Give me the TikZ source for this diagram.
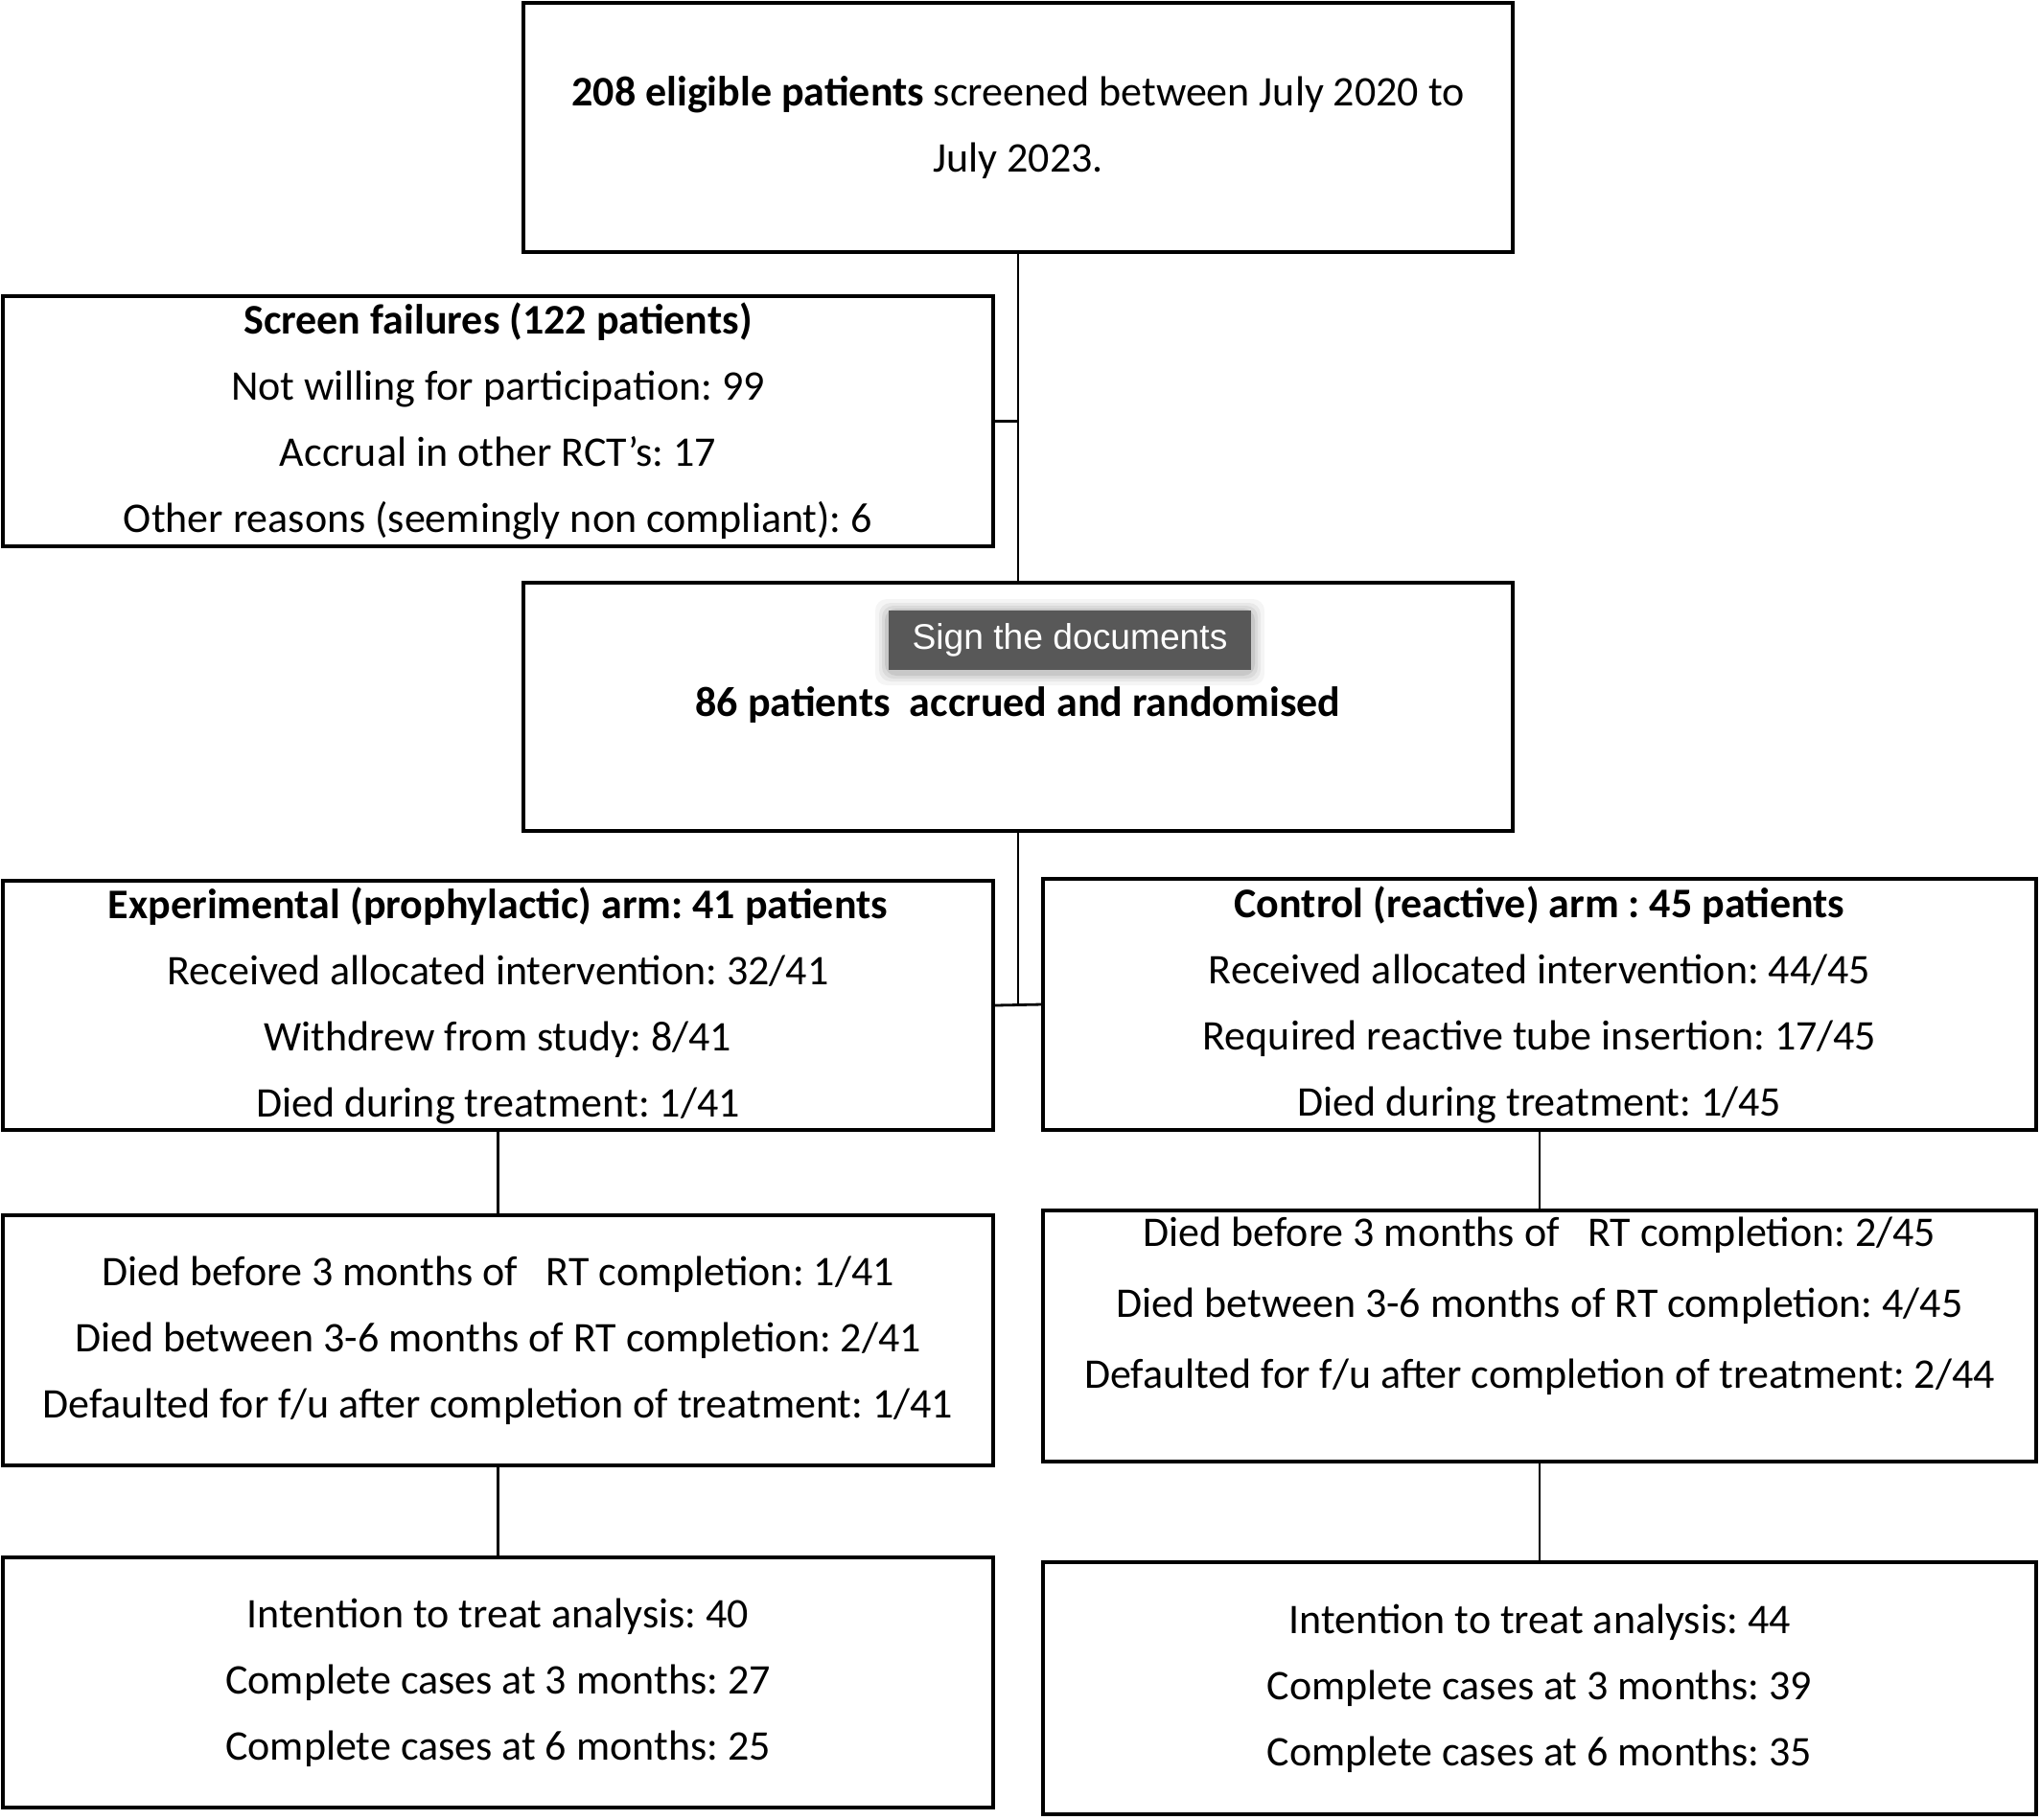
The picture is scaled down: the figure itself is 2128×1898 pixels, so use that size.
\documentclass[tikz,border=0pt]{standalone}
\usepackage{fontspec}
\setmainfont{Carlito}
\newfontfamily\tipfont{Liberation Sans}
\definecolor{tipgray}{RGB}{88,88,88}
\frenchspacing
\begin{document}
\begin{tikzpicture}[x=0.25pt,y=-0.25pt,
  box/.style={draw=black,line width=0.8pt,fill=white,align=center,inner sep=0pt,
    font=\fontsize{11}{17.25}\selectfont},
  wbox/.style={box,minimum width=258.25pt,minimum height=65.25pt},
  conn/.style={draw=black,line width=0.7pt}]
\useasboundingbox (0,0) rectangle (2128,1898);
\fill[white] (0,0) rectangle (2128,1898);

\node[box,minimum width=258pt,minimum height=65pt] (top) at (1062,133)
  {\textbf{208 eligible patients} screened between July 2020 to\\July 2023.};

\node[wbox] (screen) at (519.5,439.5)
  {\textbf{Screen failures (122 patients)}\\Not willing for participation: 99\\Accrual in other RCT’s: 17\\Other reasons (seemingly non compliant): 6};

\node[box,minimum width=258pt,minimum height=64.75pt] (rand) at (1062,737.5) {};
\node[font=\fontsize{11}{17.25}\selectfont\bfseries,inner sep=0pt] (randtxt) at (1062,735) {86 patients \ accrued and randomised};

% tooltip with soft shadow
\foreach \d/\o in {14/0.04,10/0.05,7/0.06,4/0.08}{
  \fill[black,opacity=\o,rounded corners=3pt] (927-\d,636-\d+3) rectangle (1305+\d,698+\d+3);
}
\node[fill=tipgray,minimum width=94.5pt,minimum height=15.5pt,inner sep=0pt,
  text=white,font=\tipfont\fontsize{9.3}{11}\selectfont] (tip) at (1116,667.5) {Sign the documents};

\node[wbox,minimum height=65pt] (exp) at (519.5,1049)
  {\textbf{Experimental (prophylactic) arm: 41 patients}\\Received allocated intervention: 32/41\\Withdrew from study: 8/41\\Died during treatment: 1/41};

\node[box,minimum width=259pt,minimum height=65.5pt] (ctrl) at (1606,1048)
  {\textbf{Control (reactive) arm : 45 patients}\\Received allocated intervention: 44/45\\Required reactive tube insertion: 17/45\\Died during treatment: 1/45};

\node[wbox] (diedL) at (519.5,1398.5)
  {Died before 3 months of \ \ RT completion: 1/41\\Died between 3-6 months of RT completion: 2/41\\Defaulted for f/u after completion of treatment: 1/41};

\node[box,minimum width=259pt,minimum height=65.5pt] (diedR) at (1606,1394) {};
\node[align=center,inner sep=0pt,font=\fontsize{11}{18.5}\selectfont] (diedRtxt) at (1606,1363)
  {Died before 3 months of \ \ RT completion: 2/45\\Died between 3-6 months of RT completion: 4/45\\Defaulted for f/u after completion of treatment: 2/44};

\node[wbox] (ittL) at (519.5,1755.5)
  {Intention to treat analysis: 40\\Complete cases at 3 months: 27\\Complete cases at 6 months: 25};

\node[box,minimum width=259pt,minimum height=65.75pt] (ittR) at (1606,1761.5)
  {Intention to treat analysis: 44\\Complete cases at 3 months: 39\\Complete cases at 6 months: 35};

% connectors
\draw[conn] (top.south) -- (rand.north);
\draw[conn] (screen.east) -- (screen.east -| top.south);
\draw[conn] (rand.south) -- (rand.south |- exp.east);
\draw[conn] (exp.east) -- (ctrl.west);
\draw[conn] (exp.south) -- (diedL.north);
\draw[conn] (diedL.south) -- (ittL.north);
\draw[conn] (ctrl.south) -- (diedR.north);
\draw[conn] (diedR.south) -- (ittR.north);
\end{tikzpicture}
\end{document}
